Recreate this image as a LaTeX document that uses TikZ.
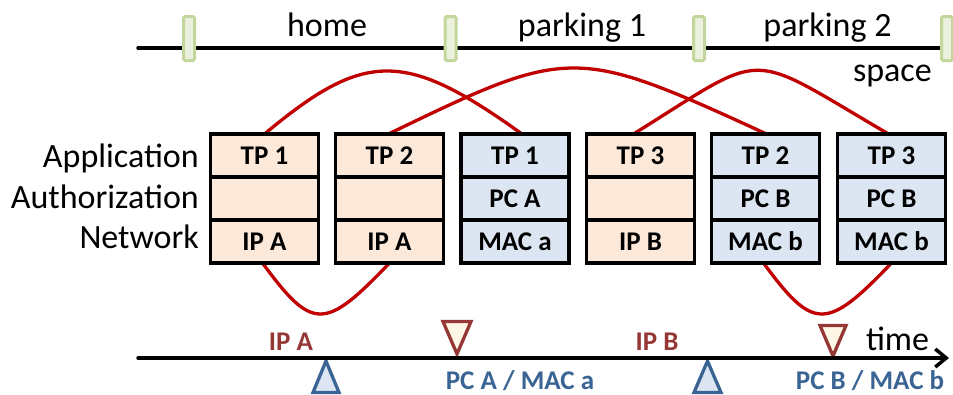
\documentclass[tikz,border=0pt]{standalone}
\usepackage{fontspec}
\setmainfont{Carlito}
\usetikzlibrary{arrows.meta}
\pgfdeclarelayer{bg}
\pgfsetlayers{bg,main}

\definecolor{curvered}{HTML}{C00000}
\definecolor{orgfill}{HTML}{FDE9D9}
\definecolor{blufill}{HTML}{DCE6F2}
\definecolor{gatefill}{HTML}{EBF1DE}
\definecolor{gateline}{HTML}{C3D69B}
\definecolor{ipred}{HTML}{953735}
\definecolor{pcblue}{HTML}{3A6494}
\definecolor{trifill}{HTML}{FFF7E6}

\begin{document}
\begin{tikzpicture}[x=1pt,y=-1pt,
  cell/.style={draw=black, line width=3.6pt, minimum width=108pt, minimum height=43pt,
    inner sep=0pt, outer sep=0pt, font=\fontsize{27}{30}\selectfont\bfseries,
    text height=17.4pt, text depth=0pt},
  cellorg/.style={cell, fill=orgfill},
  cellblu/.style={cell, fill=blufill},
  gate/.style={draw=gateline, fill=gatefill, line width=3pt, rounded corners=1.5pt,
    minimum width=11pt, minimum height=44pt, inner sep=0pt},
  biglbl/.style={font=\fontsize{34}{40}\selectfont, inner sep=0pt},
  evlbl/.style={font=\fontsize{27}{30}\selectfont\bfseries, inner sep=0pt, anchor=base},
  axisline/.style={line width=3.5pt, line cap=round},
  link/.style={draw=curvered, line width=3.3pt},
  tridown/.style={draw=ipred, fill=trifill, line width=3.3pt},
  triup/.style={draw=pcblue, fill=blufill, line width=3.3pt},
]
\useasboundingbox (0,0) rectangle (953,394);

% ---- space axis with location boundaries
\coordinate (sl) at (138,48);
\coordinate (sr) at (946,48);
\draw[axisline] (sl) -- (sr);
\node[gate] (g1) at (189,38.5) {};
\node[gate] (g2) at (450.5,38.5) {};
\node[gate] (g3) at (699,38.5) {};
\node[gate] (g4) at (947,38.5) {};
\node[biglbl, anchor=base] (home) at (327,36) {home};
\node[biglbl, anchor=base] (park1) at (582,36) {parking 1};
\node[biglbl, anchor=base] (park2) at (827.5,36) {parking 2};
\node[biglbl, anchor=base east] (space) at (932,81) {space};

% ---- layer names
\node[biglbl, anchor=base east] (la) at (199,167) {Application};
\node[biglbl, anchor=base east] (lz) at (199,208) {Authorization};
\node[biglbl, anchor=base east] (ln) at (199,248) {Network};

% ---- protocol stacks
\node[cellorg] (s1a) at (264.5,155.5) {TP 1};
\node[cellorg] (s1z) at (264.5,198.5) {};
\node[cellorg] (s1n) at (264.5,241.5) {IP A};

\node[cellorg] (s2a) at (389.5,155.5) {TP 2};
\node[cellorg] (s2z) at (389.5,198.5) {};
\node[cellorg] (s2n) at (389.5,241.5) {IP A};

\node[cellblu] (s3a) at (515,155.5) {TP 1};
\node[cellblu] (s3z) at (515,198.5) {PC A};
\node[cellblu] (s3n) at (515,241.5) {MAC a};

\node[cellorg] (s4a) at (640.5,155.5) {TP 3};
\node[cellorg] (s4z) at (640.5,198.5) {};
\node[cellorg] (s4n) at (640.5,241.5) {IP B};

\node[cellblu] (s5a) at (765.5,155.5) {TP 2};
\node[cellblu] (s5z) at (765.5,198.5) {PC B};
\node[cellblu] (s5n) at (765.5,241.5) {MAC b};

\node[cellblu] (s6a) at (891.5,155.5) {TP 3};
\node[cellblu] (s6z) at (891.5,198.5) {PC B};
\node[cellblu] (s6n) at (891.5,241.5) {MAC b};

% ---- links between stacks
\begin{pgfonlayer}{bg}
\draw[link] (s1a.north) .. controls (365,50) and (405,50) .. ([xshift=7pt]s3a.north);
\draw[link] ([xshift=-1pt]s2a.north) .. controls (570,46) and (575,46) .. ([xshift=1pt]s5a.north);
\draw[link] ([xshift=-7pt]s4a.north) .. controls (770,49) and (743,49) .. ([xshift=-3pt]s6a.north);
\draw[link] ([xshift=-2pt]s1n.south) .. controls +(50,68) and +(-65,68) .. (s2n.south);
\draw[link] ([xshift=-2pt]s5n.south) .. controls +(50,68) and +(-65,68) .. (s6n.south);
\end{pgfonlayer}

% ---- time axis with events
\coordinate (tl) at (138,358);
\coordinate (tr) at (949,358);
\draw[tridown] (443,321.5) -- (471,321.5) -- (457,354) -- cycle;
\draw[tridown] (820,325.5) -- (846,325.5) -- (833,356) -- cycle;
\draw[triup] (313,392.5) -- (339,392.5) -- (326,361) -- cycle;
\draw[triup] (694,392.5) -- (721,392.5) -- (707.5,361) -- cycle;
\draw[axisline, -{Straight Barb[length=11pt,width=18pt]}] (tl) -- (tr);

\node[evlbl, text=ipred] (ipa) at (291,350) {IP A};
\node[evlbl, text=ipred] (ipb) at (657,350) {IP B};
\node[evlbl, text=pcblue] (pca) at (520,389) {PC A / MAC a};
\node[evlbl, text=pcblue] (pcb) at (870,389) {PC B / MAC b};
\node[biglbl, anchor=base] (time) at (897.5,350) {time};
\end{tikzpicture}
\end{document}
